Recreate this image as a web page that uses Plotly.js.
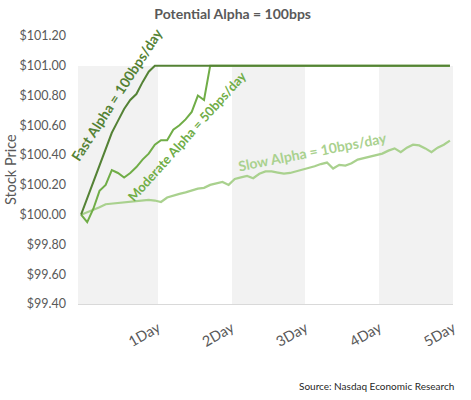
<!DOCTYPE html>
<html>
<head>
<meta charset="utf-8">
<script src="https://cdn.plot.ly/plotly-3.0.1.min.js"></script>
<style>
  html, body { margin: 0; padding: 0; background: #ffffff; }
  #chart { width: 471px; height: 400px; }
</style>
</head>
<body>
<div id="chart"></div>
<script>
// ---- Data ----
const chartTitle = 'Potential Alpha = 100bps';
const yTitle = 'Stock Price';
const sourceNote = 'Source: Nasdaq Economic Research';

const dayLabels = ['1Day', '2Day', '3Day', '4Day', '5Day'];
const dayEndIndex = [12, 24, 36, 48, 60];        // last sample index of each day
const shadedDay = [true, false, true, false, true];
const bandTop = 101.00;

const fastName = 'Fast Alpha = 100bps/day';
const fastValues = [
  100.00, 100.11, 100.22, 100.33, 100.44, 100.55, 100.63, 100.71, 100.77, 100.81,
  100.89, 100.96, 101.00, 101.00, 101.00, 101.00, 101.00, 101.00, 101.00, 101.00,
  101.00, 101.00, 101.00, 101.00, 101.00, 101.00, 101.00, 101.00, 101.00, 101.00,
  101.00, 101.00, 101.00, 101.00, 101.00, 101.00, 101.00, 101.00, 101.00, 101.00,
  101.00, 101.00, 101.00, 101.00, 101.00, 101.00, 101.00, 101.00, 101.00, 101.00,
  101.00, 101.00, 101.00, 101.00, 101.00, 101.00, 101.00, 101.00, 101.00, 101.00,
  101.00
];

const moderateName = 'Moderate Alpha = 50bps/day';
const moderateValues = [
  100.00, 99.95, 100.04, 100.16, 100.20, 100.30, 100.28, 100.25, 100.28, 100.32,
  100.37, 100.41, 100.47, 100.50, 100.50, 100.57, 100.60, 100.64, 100.69, 100.80,
  100.77, 101.00, 101.00, 101.00, 101.00, 101.00, 101.00, 101.00, 101.00, 101.00,
  101.00, 101.00, 101.00, 101.00, 101.00, 101.00, 101.00, 101.00, 101.00, 101.00,
  101.00, 101.00, 101.00, 101.00, 101.00, 101.00, 101.00, 101.00, 101.00, 101.00,
  101.00, 101.00, 101.00, 101.00, 101.00, 101.00, 101.00, 101.00, 101.00, 101.00,
  101.00
];

const slowName = 'Slow Alpha = 10bps/day';
const slowValues = [
  100.00, 100.015, 100.03, 100.05, 100.07, 100.075, 100.08, 100.085, 100.09, 100.09,
  100.095, 100.10, 100.095, 100.085, 100.115, 100.13, 100.14, 100.15, 100.165, 100.175,
  100.18, 100.20, 100.21, 100.22, 100.20, 100.24, 100.25, 100.26, 100.245, 100.275,
  100.29, 100.29, 100.283, 100.275, 100.28, 100.29, 100.30, 100.31, 100.325, 100.34,
  100.35, 100.31, 100.335, 100.33, 100.345, 100.37, 100.38, 100.39, 100.40, 100.41,
  100.43, 100.445, 100.42, 100.45, 100.47, 100.465, 100.445, 100.42, 100.45, 100.47,
  100.497
];

const yTickVals = [99.40, 99.60, 99.80, 100.00, 100.20, 100.40, 100.60, 100.80, 101.00, 101.20];

// ---- Styling ----
const FONT = 'Lato, "Open Sans", sans-serif';
const GREY = '#595959';
const C_FAST = '#548235';
const C_MOD = '#70AD47';
const C_SLOW = '#A9D18E';
const BAND = '#F2F2F2';
const Y_MIN = 99.4, Y_MAX = 101.2;

const idx = fastValues.map((_, i) => i);

// alternating day bands (like a background column series)
const bandX = [], bandW = [], bandY = [];
dayEndIndex.forEach((end, i) => {
  if (!shadedDay[i]) return;
  const start = i === 0 ? -0.5 : dayEndIndex[i - 1] + 0.5;
  const stop = end + 0.5;
  bandX.push((start + stop) / 2);
  bandW.push(stop - start);
  bandY.push(bandTop - Y_MIN);
});

const traces = [
  { type: 'bar', x: bandX, y: bandY, width: bandW, base: Y_MIN,
    marker: { color: BAND, line: { width: 0 } }, hoverinfo: 'skip', showlegend: false },
  { type: 'scatter', mode: 'lines', name: slowName, x: idx, y: slowValues,
    line: { color: C_SLOW, width: 2.25 }, showlegend: false },
  { type: 'scatter', mode: 'lines', name: moderateName, x: idx, y: moderateValues,
    line: { color: C_MOD, width: 2 }, showlegend: false },
  { type: 'scatter', mode: 'lines', name: fastName, x: idx, y: fastValues,
    line: { color: C_FAST, width: 2 }, showlegend: false }
];

const layout = {
  width: 471, height: 400,
  margin: { l: 78, r: 18, t: 36, b: 96 },
  paper_bgcolor: '#ffffff', plot_bgcolor: '#ffffff',
  font: { family: FONT, color: GREY },
  title: { text: chartTitle, x: 0.494, xanchor: 'center', y: 0.966, yanchor: 'middle',
           font: { family: FONT, size: 14, color: GREY, weight: 700 } },
  xaxis: {
    range: [-0.5, fastValues.length - 0.5],
    tickmode: 'array',
    tickvals: dayEndIndex.map(v => v + 0.5),
    ticktext: dayLabels,
    tickangle: -30,
    tickfont: { family: FONT, size: 14.5, color: GREY },
    ticks: '', ticklabelstandoff: 9,
    showgrid: false, zeroline: false,
    showline: true, linecolor: '#D9D9D9', linewidth: 1
  },
  yaxis: {
    range: [Y_MIN, Y_MAX],
    tickmode: 'array',
    tickvals: yTickVals,
    ticktext: yTickVals.map(v => '$' + v.toFixed(2)),
    tickfont: { family: FONT, size: 12.5, color: GREY },
    ticks: '', ticklabelstandoff: 11,
    showgrid: false, zeroline: false, showline: false
  },
  bargap: 0,
  annotations: [
    { text: fastName, xref: 'x', yref: 'y', x: 5.75, y: 100.81, showarrow: false,
      textangle: -57, font: { family: FONT, size: 14, color: C_FAST, weight: 700 } },
    { text: moderateName, xref: 'x', yref: 'y', x: 17.2, y: 100.53, showarrow: false,
      textangle: -48, font: { family: FONT, size: 13, color: C_MOD, weight: 700 } },
    { text: slowName, xref: 'x', yref: 'y', x: 37.72, y: 100.425, showarrow: false,
      textangle: -11, font: { family: FONT, size: 14, color: C_SLOW, weight: 700 } },
    { text: yTitle, xref: 'paper', yref: 'paper', x: (10 - 78) / 375, y: 0.5,
      xanchor: 'center', yanchor: 'middle', showarrow: false, textangle: -90,
      font: { family: FONT, size: 14.5, color: GREY } },
    { text: sourceNote, xref: 'paper', yref: 'paper', x: (456 - 78) / 375, y: (304 - 386) / 268,
      xanchor: 'right', yanchor: 'middle', showarrow: false,
      font: { family: FONT, size: 10, color: '#1f1f1f' } }
  ]
};

Plotly.newPlot('chart', traces, layout, { staticPlot: true, displayModeBar: false });
</script>
</body>
</html>
